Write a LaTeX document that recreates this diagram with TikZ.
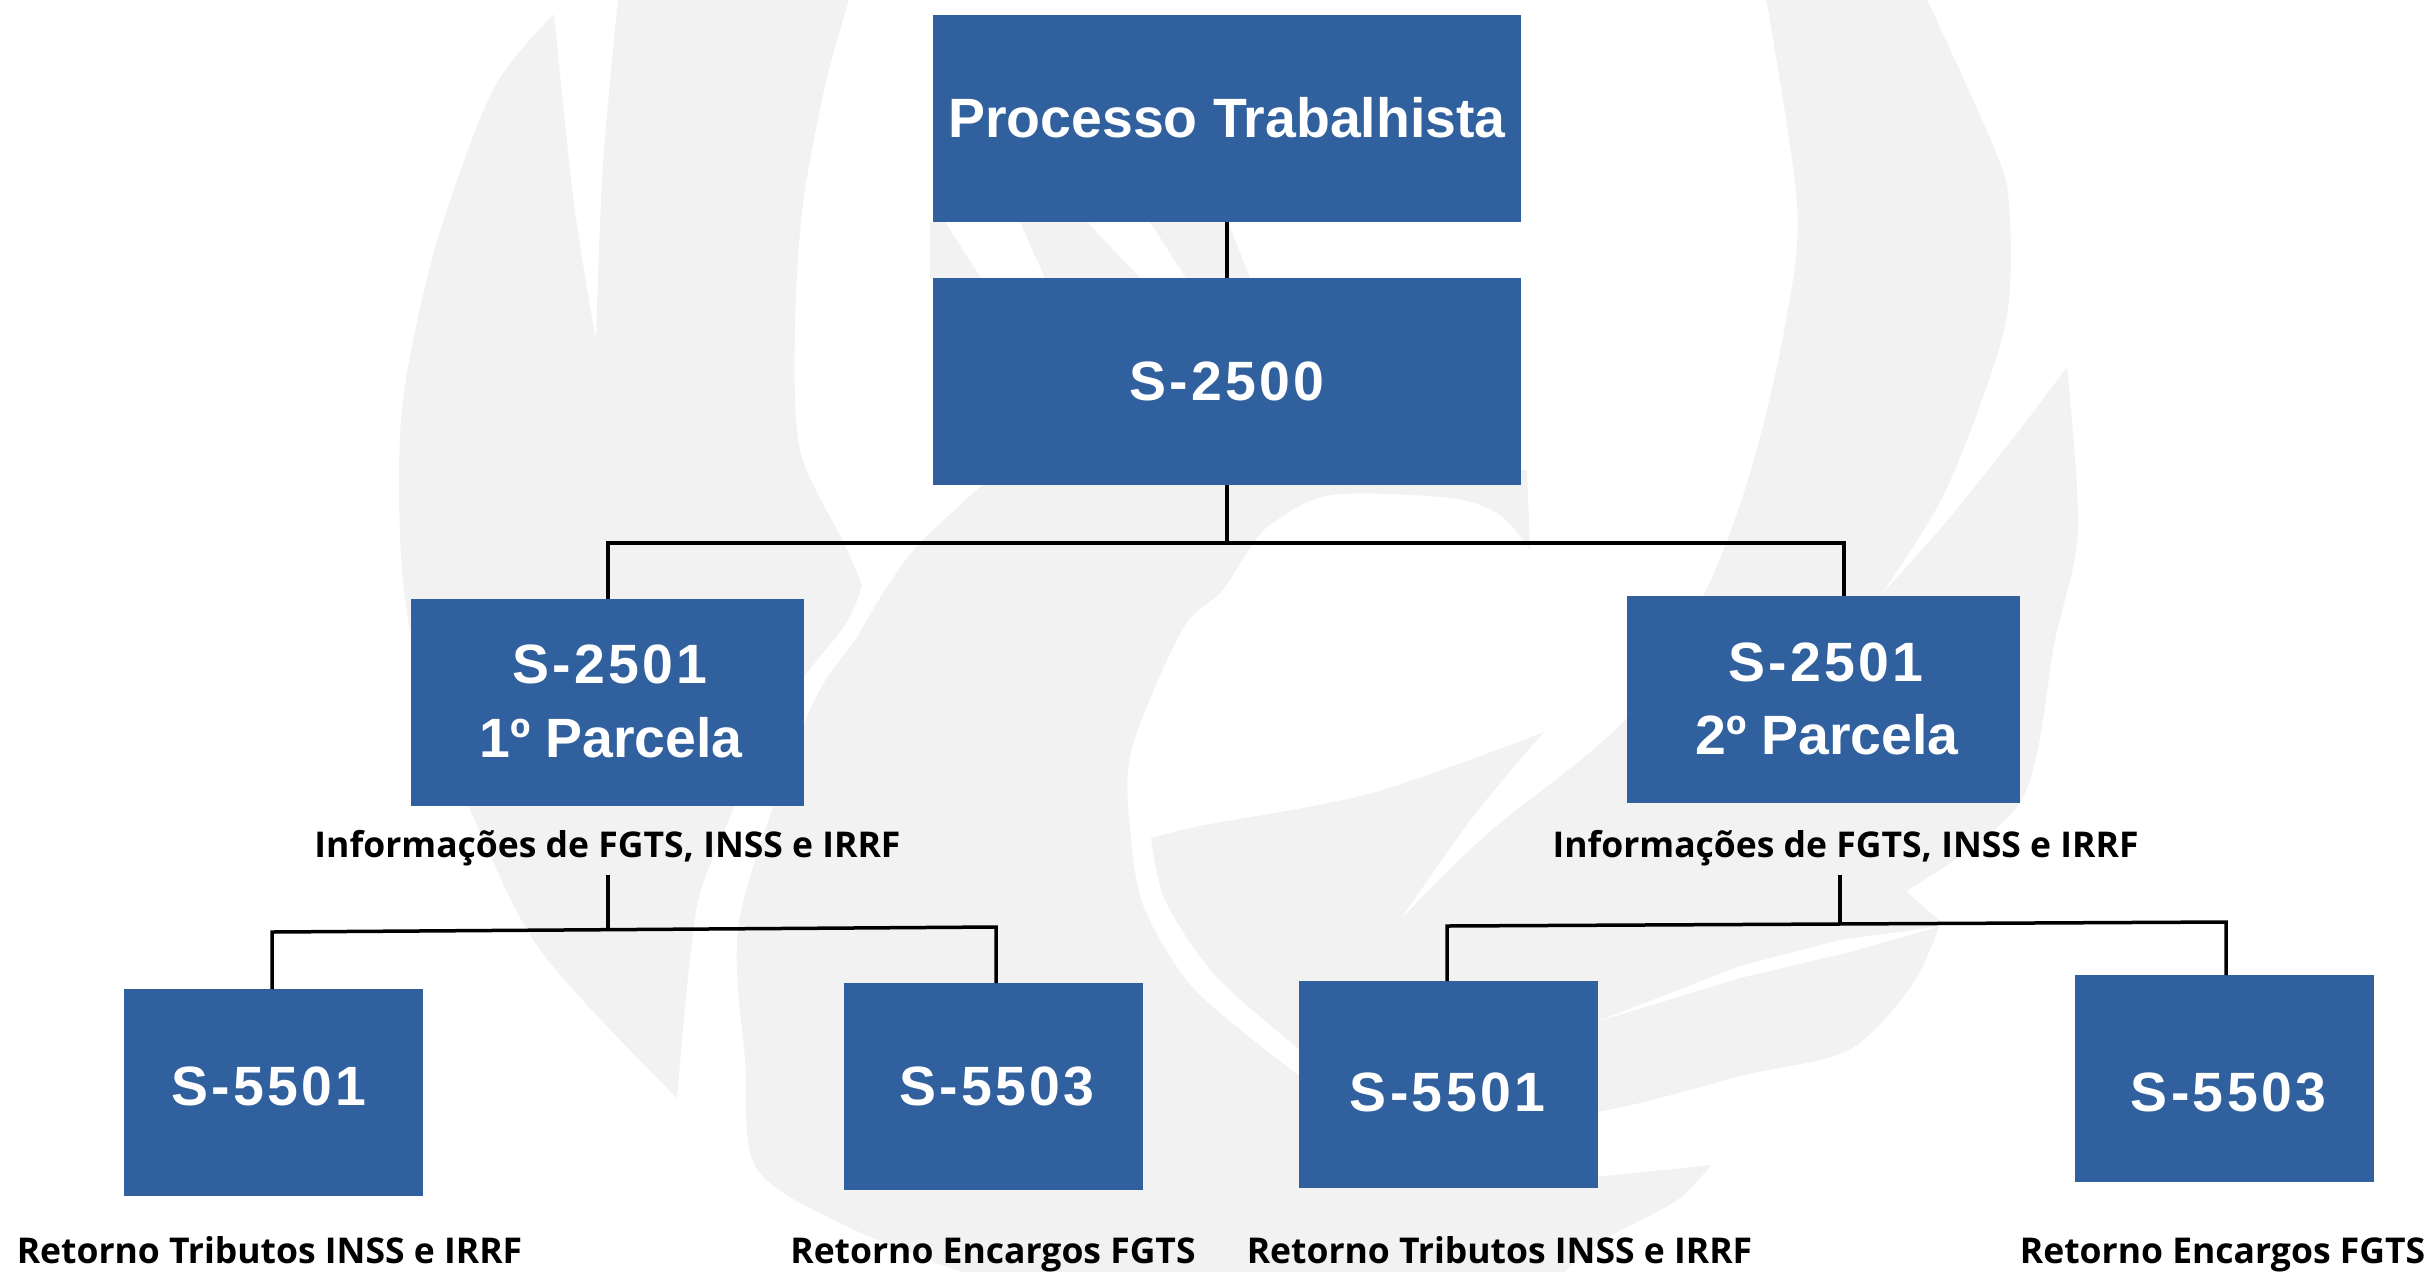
\documentclass[tikz,border=0pt]{standalone}
\usepackage{fontspec}
\setmainfont{Liberation Sans}
\newfontfamily\labelfont{Open Sans}
\newfontfamily\codefont[LetterSpace=6]{Liberation Sans}
\definecolor{boxblue}{HTML}{31609E}
\definecolor{markgrey}{HTML}{F2F2F2}
\tikzset{
	bluebox/.style={fill=boxblue, inner sep=0pt, outer sep=0pt, minimum height=103.5pt},
	widebox/.style={bluebox, minimum width=294pt},
	midbox/.style={bluebox, minimum width=196.5pt},
	smallbox/.style={bluebox, minimum width=149.5pt},
	boxtext/.style={anchor=base, inner sep=0pt, text=white, font=\fontsize{27.7}{30}\selectfont\bfseries},
	codetext/.style={boxtext, font=\fontsize{27.7}{30}\codefont\bfseries},
	notetext/.style={anchor=base, inner sep=0pt, outer sep=4.5pt, text=black, font=\fontsize{17.75}{20}\labelfont\bfseries},
	wire/.style={draw=black, line width=1.75pt},
	greymark/.style={fill=markgrey}
}
\begin{document}
\begin{tikzpicture}[x=0.5pt, y=-0.5pt]
	\useasboundingbox (0, 0) rectangle (2432, 1271);
	% Watermark behind the chart:
	\fill[greymark] (620, -20) -- plot[smooth] coordinates {(855, -20) (826, 82) (803, 204) (795, 327) (800, 450) (844, 543) (862, 585)}
		-- plot[smooth] coordinates {(862, 585) (845, 625) (780, 712) (706, 875) (690, 960) (677, 1098)}
		-- plot[smooth] coordinates {(677, 1098) (540, 950) (468, 805) (425, 700) (402, 571) (402, 408) (436, 245) (493, 90) (554, 14)}
		-- plot[smooth] coordinates {(554, 14) (574, 204) (596, 340)}
		-- plot[smooth] coordinates {(596, 340) (603, 163) (620, -20)} -- cycle;
	\fill[greymark] (981, 486) -- (1000, 470) -- (1527, 470) -- (1530, 550)
		-- plot[smooth] coordinates {(1530, 550) (1500, 515) (1450, 498) (1330, 495) (1270, 525) (1248, 551) (1221, 592) (1182, 630) (1131, 752) (1131, 838) (1145, 910) (1195, 990) (1298, 1075)}
		-- (1596, 1177) -- (1711, 1165)
		-- plot[smooth] coordinates {(1711, 1165) (1676, 1201) (1602, 1241) (1544, 1290)}
		-- plot[smooth] coordinates {(1010, 1290) (855, 1230) (757, 1169) (745, 1060) (740, 916) (809, 712) (855, 640) (885, 590) (918, 545) (981, 486)} -- cycle;
	\fill[greymark] (1763, -20) -- plot[smooth] coordinates {(1918, -20) (1992, 143) (2009, 204) (2005, 326) (1946, 490) (1880, 596)}
		-- plot[smooth] coordinates {(1880, 596) (1946, 522) (2021, 428) (2067, 367)}
		-- plot[smooth] coordinates {(2067, 367) (2078, 530) (2055, 640) (2021, 801) (1906, 891)}
		-- plot[smooth] coordinates {(1941, 922) (1912, 985) (1849, 1050) (1745, 1075) (1596, 1112) (1400, 1130)}
		-- plot[smooth] coordinates {(1400, 1130) (1300, 1050) (1215, 975) (1165, 900) (1151, 838)}
		-- plot[smooth] coordinates {(1151, 838) (1200, 826) (1372, 793) (1544, 732)}
		-- plot[smooth] coordinates {(1544, 732) (1475, 814) (1400, 920)}
		-- plot[smooth] coordinates {(1400, 920) (1487, 834) (1625, 720) (1705, 592) (1751, 470) (1785, 326) (1797, 204) (1763, -20)} -- cycle;
	\fill[greymark] (930, 222) -- (945, 222) -- (981, 278) -- (930, 278) -- cycle;
	\fill[greymark] (1020, 222) -- (1087, 222) -- (1140, 278) -- (1045, 278) -- cycle;
	\fill[greymark] (1150, 222) -- (1228, 222) -- (1250, 278) -- (1186, 278) -- cycle;
	\fill[white] (1941, 926) -- (1840, 940) -- (1740, 966) -- (1596, 1022) -- (1740, 978) -- (1850, 952) -- cycle;

	% Boxes:
	\node[widebox] (processo) at (1227, 118.5){};
	\node[widebox] (s2500) at (1227, 381.5){};
	\node[midbox] (parcelaA) at (607.5, 702.5){};
	\node[midbox] (parcelaB) at (1823.5, 699.5){};
	\node[smallbox] (tributosA) at (273.5, 1092.5){};
	\node[smallbox] (encargosA) at (993.5, 1086.5){};
	\node[smallbox] (tributosB) at (1448.5, 1084.5){};
	\node[smallbox] (encargosB) at (2224.5, 1078.5){};

	% Box texts:
	\node[boxtext] (tProcesso) at (1227, 137){Processo Trabalhista};
	\node[codetext] (t2500) at (1227, 400){S-2500};
	\node[codetext] (t2501A) at (610, 683){S-2501};
	\node[boxtext] (tParcelaA) at (611, 757){1º Parcela};
	\node[codetext] (t2501B) at (1826, 681){S-2501};
	\node[boxtext] (tParcelaB) at (1827, 754){2º Parcela};
	\node[codetext] (t5501A) at (269, 1105){S-5501};
	\node[codetext] (t5503A) at (997, 1105){S-5503};
	\node[codetext] (t5501B) at (1447.5, 1111){S-5501};
	\node[codetext] (t5503B) at (2228.5, 1111){S-5503};

	% Notes:
	\node[notetext] (infoA) at (607.5, 857){Informações de FGTS, INSS e IRRF};
	\node[notetext] (infoB) at (1845.5, 857){Informações de FGTS, INSS e IRRF};
	\node[notetext] (retTributosA) at (269.5, 1263){Retorno Tributos INSS e IRRF};
	\node[notetext] (retEncargosA) at (993, 1263){Retorno Encargos FGTS};
	\node[notetext] (retTributosB) at (1499.5, 1263){Retorno Tributos INSS e IRRF};
	\node[notetext] (retEncargosB) at (2222.5, 1263){Retorno Encargos FGTS};

	% Wires:
	\coordinate (topJoin) at (1227, 543);
	\coordinate (topA) at (608, 543);
	\coordinate (topB) at (1844, 543);
	\coordinate (barAl) at (272, 932);
	\coordinate (barAm) at (608, 930);
	\coordinate (barAr) at (996, 927);
	\coordinate (barBl) at (1447, 926);
	\coordinate (barBm) at (1840, 924);
	\coordinate (barBr) at (2226, 922);
	\draw[wire] (processo) -- (s2500);
	\draw[wire] (s2500) -- (topJoin);
	\draw[wire] (parcelaA.north -| topA) -- (topA) -- (topB) -- (parcelaB.north -| topB);
	\draw[wire] (infoA.south -| barAm) -- (barAm);
	\draw[wire] (tributosA.north -| barAl) -- (barAl) -- (barAr) -- (encargosA.north -| barAr);
	\draw[wire] (infoB.south -| barBm) -- (barBm);
	\draw[wire] (tributosB.north -| barBl) -- (barBl) -- (barBr) -- (encargosB.north -| barBr);
\end{tikzpicture}
\end{document}
